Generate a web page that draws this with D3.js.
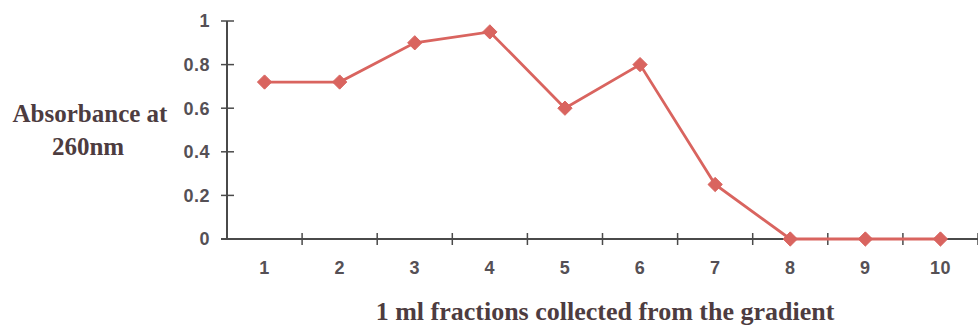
<!DOCTYPE html>
<html>
<head>
<meta charset="utf-8">
<script src="https://cdn.jsdelivr.net/npm/d3@7"></script>
<style>
  body { margin: 0; background: #fff; }
  .tick-label { font-family: "Liberation Sans", Arial, sans-serif; font-weight: bold; font-size: 18px; letter-spacing: 0.5px; fill: #555055; }
  .title { font-family: "Liberation Serif", "Times New Roman", serif; font-weight: bold; font-size: 25px; fill: #4d3c40; }
</style>
</head>
<body>
<div id="chart"></div>
<script>
// data
var fractions = ["1", "2", "3", "4", "5", "6", "7", "8", "9", "10"];
var absorbance = [0.72, 0.72, 0.9, 0.95, 0.6, 0.8, 0.25, 0, 0, 0];
var yTicks = [0, 0.2, 0.4, 0.6, 0.8, 1];
var yTickLabels = ["0", "0.2", "0.4", "0.6", "0.8", "1"];

var W = 978, H = 327;
var svg = d3.select("#chart").append("svg")
    .attr("width", W).attr("height", H);

var x = d3.scaleBand().domain(fractions).range([227, 978]);
var y = d3.scaleLinear().domain([0, 1]).range([239, 21]);

var axisColor = "#4a4a4a";

// y axis line + crossing ticks
svg.append("line")
    .attr("x1", 227).attr("x2", 227)
    .attr("y1", y(1)).attr("y2", y(0))
    .attr("stroke", axisColor).attr("stroke-width", 2);
svg.selectAll(".ytick").data(yTicks).enter().append("line")
    .attr("x1", 221).attr("x2", 234)
    .attr("y1", d => y(d)).attr("y2", d => y(d))
    .attr("stroke", axisColor).attr("stroke-width", 1.5);
svg.selectAll(".ylab").data(yTicks).enter().append("text")
    .attr("class", "tick-label")
    .attr("x", 210).attr("y", d => y(d))
    .attr("dy", "0.35em")
    .attr("text-anchor", "end")
    .text((d, i) => yTickLabels[i]);

// x axis line + ticks at category boundaries
svg.append("line")
    .attr("x1", 221).attr("x2", 978)
    .attr("y1", y(0)).attr("y2", y(0))
    .attr("stroke", axisColor).attr("stroke-width", 2);
svg.selectAll(".xtick").data(fractions).enter().append("line")
    .attr("x1", d => x(d) + x.bandwidth()).attr("x2", d => x(d) + x.bandwidth())
    .attr("y1", y(0) - 6).attr("y2", y(0) + 6)
    .attr("stroke", axisColor).attr("stroke-width", 1.5);
svg.selectAll(".xlab").data(fractions).enter().append("text")
    .attr("class", "tick-label")
    .attr("x", d => x(d) + x.bandwidth() / 2).attr("y", 274)
    .attr("text-anchor", "middle")
    .text(d => d);

// series
var lineColor = "#d9645f";
var pts = fractions.map((f, i) => [x(f) + x.bandwidth() / 2, y(absorbance[i])]);
svg.append("path")
    .attr("d", d3.line()(pts))
    .attr("fill", "none")
    .attr("stroke", lineColor)
    .attr("stroke-width", 2.8);
svg.selectAll(".mark").data(pts).enter().append("path")
    .attr("d", d3.symbol().type(d3.symbolDiamond2).size(130))
    .attr("transform", d => "translate(" + d[0] + "," + d[1] + ")")
    .attr("fill", lineColor)
    .attr("stroke", lineColor)
    .attr("stroke-width", 1)
    .attr("stroke-linejoin", "round");

// titles
svg.append("text").attr("class", "title")
    .attr("x", 90).attr("y", 122).attr("text-anchor", "middle")
    .text("Absorbance at");
svg.append("text").attr("class", "title")
    .attr("x", 88).attr("y", 155).attr("text-anchor", "middle")
    .text("260nm");
svg.append("text").attr("class", "title")
    .attr("x", 605).attr("y", 320).attr("text-anchor", "middle")
    .style("font-size", "26px")
    .text("1 ml fractions collected from the gradient");
</script>
</body>
</html>
